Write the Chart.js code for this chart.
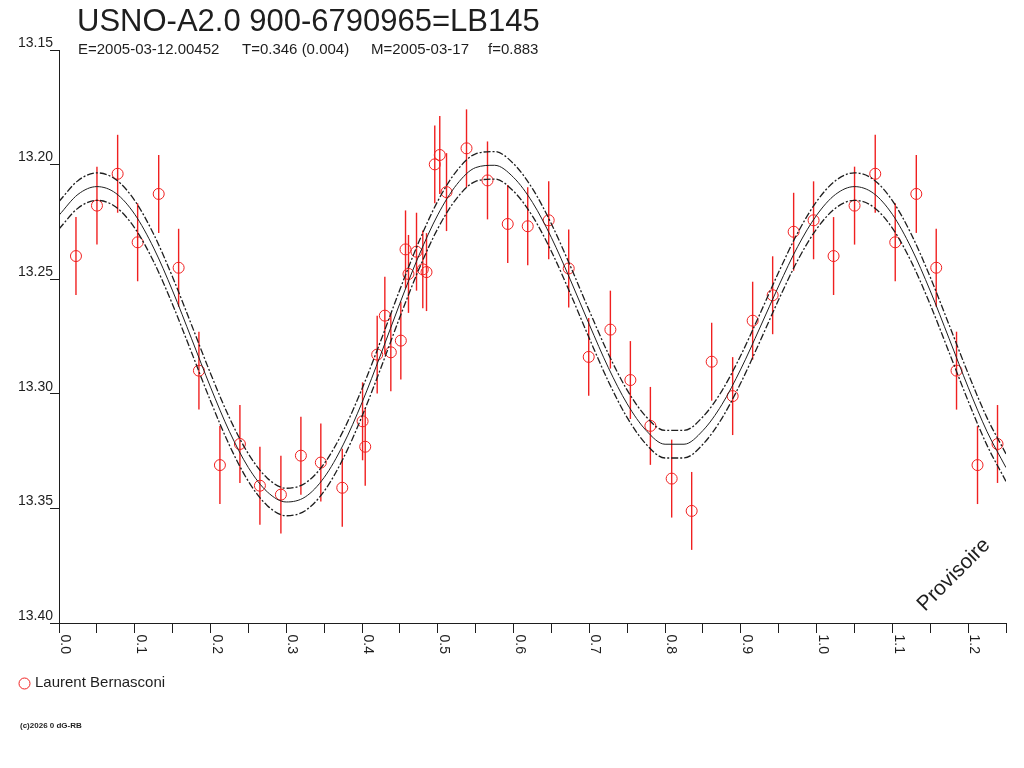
<!DOCTYPE html>
<html>
<head>
<meta charset="utf-8">
<title>USNO-A2.0 900-6790965=LB145</title>
<script src="https://cdn.jsdelivr.net/npm/chart.js@4.4.1/dist/chart.umd.min.js"></script>
<style>
  html, body { margin: 0; padding: 0; background: #fff; }
  #wrap { width: 1024px; height: 768px; }
</style>
</head>
<body>
<div id="wrap"><canvas id="lc" width="1024" height="768"></canvas></div>
<script>
const obsPhase = [
  0.0224, 0.0501, 0.0774, 0.1038, 0.1316, 0.1579, 0.1847, 0.2124, 0.2388, 0.2652,
  0.2929, 0.3193, 0.3456, 0.3739, 0.4007, 0.4042, 0.4200, 0.4301, 0.4380, 0.4512,
  0.4574, 0.4613, 0.4719, 0.4802, 0.4851, 0.4960, 0.5026, 0.5115, 0.5379, 0.5656,
  0.5923, 0.6187, 0.6464, 0.6728, 0.6992, 0.7278, 0.7542, 0.7806, 0.8087, 0.8351,
  0.8615, 0.8892, 0.9156, 0.9420, 0.9697, 0.9960
];
const obsMag = [
  13.2399, 13.2179, 13.2040, 13.2339, 13.2128, 13.2450, 13.2899, 13.3311, 13.3219, 13.3401,
  13.3440, 13.3270, 13.3300, 13.3410, 13.3120, 13.3231, 13.2829, 13.2659, 13.2819, 13.2768,
  13.2370, 13.2477, 13.2380, 13.2457, 13.2469, 13.1999, 13.1958, 13.2120, 13.1929, 13.2069,
  13.2259, 13.2269, 13.2243, 13.2453, 13.2839, 13.2720, 13.2940, 13.3140, 13.3370, 13.3511,
  13.2860, 13.3010, 13.2681, 13.2570, 13.2293, 13.2243
];
const magErr = 0.017;

// fitted light curve and its envelope
const fitPhase = [
  0.000, 0.025, 0.050, 0.075, 0.100, 0.125, 0.150, 0.175, 0.200, 0.225,
  0.250, 0.275, 0.300, 0.325, 0.350, 0.375, 0.400, 0.425, 0.450, 0.475,
  0.500, 0.525, 0.550, 0.575, 0.600, 0.625, 0.650, 0.675, 0.700, 0.725,
  0.750, 0.775, 0.800, 0.825, 0.850, 0.875, 0.900, 0.925, 0.950, 0.975,
  1.000, 1.025, 1.050, 1.075, 1.100, 1.125, 1.150, 1.175, 1.200, 1.225,
  1.250
];
const fitMag = [
  13.2221, 13.2130, 13.2096, 13.2125, 13.2217, 13.2364, 13.2551, 13.2760, 13.2971, 13.3165,
  13.3322, 13.3428, 13.3472, 13.3450, 13.3365, 13.3223, 13.3038, 13.2826, 13.2605, 13.2397,
  13.2219, 13.2087, 13.2013, 13.2003, 13.2056, 13.2165, 13.2319, 13.2503, 13.2698, 13.2885,
  13.3044, 13.3160, 13.3220, 13.3220, 13.3160, 13.3047, 13.2892, 13.2713, 13.2529, 13.2358,
  13.2221, 13.2130, 13.2096, 13.2125, 13.2217, 13.2364, 13.2551, 13.2760, 13.2971, 13.3165,
  13.3322
];
const fitUpper = [
  13.2161, 13.2070, 13.2036, 13.2065, 13.2157, 13.2304, 13.2491, 13.2700, 13.2911, 13.3105,
  13.3262, 13.3368, 13.3412, 13.3390, 13.3305, 13.3163, 13.2978, 13.2766, 13.2545, 13.2337,
  13.2159, 13.2027, 13.1953, 13.1943, 13.1996, 13.2105, 13.2259, 13.2443, 13.2638, 13.2825,
  13.2984, 13.3100, 13.3160, 13.3160, 13.3100, 13.2987, 13.2832, 13.2653, 13.2469, 13.2298,
  13.2161, 13.2070, 13.2036, 13.2065, 13.2157, 13.2304, 13.2491, 13.2700, 13.2911, 13.3105,
  13.3262
];
const fitLower = [
  13.2281, 13.2190, 13.2156, 13.2185, 13.2277, 13.2424, 13.2611, 13.2820, 13.3031, 13.3225,
  13.3382, 13.3488, 13.3532, 13.3510, 13.3425, 13.3283, 13.3098, 13.2886, 13.2665, 13.2457,
  13.2279, 13.2147, 13.2073, 13.2063, 13.2116, 13.2225, 13.2379, 13.2563, 13.2758, 13.2945,
  13.3104, 13.3220, 13.3280, 13.3280, 13.3220, 13.3107, 13.2952, 13.2773, 13.2589, 13.2418,
  13.2281, 13.2190, 13.2156, 13.2185, 13.2277, 13.2424, 13.2611, 13.2820, 13.3031, 13.3225,
  13.3382
];

const phaseMin = 0;
const phaseMax = 1.25;
const magTop = 13.15;
const magBottom = 13.40;

const FONT = '"Liberation Sans", Arial, sans-serif';
const RED = "#f02020";
const INK = "#1e1e1e";

// the folded plot repeats the start of the cycle after phase 1
var obsPoints = [];
for (let i = 0; i < obsPhase.length; i++) {
  obsPoints.push({ x: obsPhase[i], y: obsMag[i] });
  if (obsPhase[i] + 1 <= phaseMax) obsPoints.push({ x: obsPhase[i] + 1, y: obsMag[i] });
}

const toXY = (xs, ys) => xs.map((x, i) => ({ x: x, y: ys[i] }));

const errorBars = {
  id: "errorBars",
  beforeDatasetsDraw(chart) {
    const { ctx } = chart;
    const x = chart.scales.x;
    const y = chart.scales.y;
    ctx.save();
    ctx.strokeStyle = RED;
    ctx.lineWidth = 1.4;
    obsPoints.forEach((p) => {
      const px = x.getPixelForValue(p.x);
      ctx.beginPath();
      ctx.moveTo(px, y.getPixelForValue(p.y - magErr));
      ctx.lineTo(px, y.getPixelForValue(p.y + magErr));
      ctx.stroke();
    });
    ctx.restore();
  },
};

const decor = {
  id: "decor",
  afterDraw(chart) {
    const { ctx } = chart;
    ctx.save();
    ctx.fillStyle = INK;
    ctx.textBaseline = "alphabetic";
    ctx.textAlign = "left";

    ctx.font = "31px " + FONT;
    ctx.fillText("USNO-A2.0 900-6790965=LB145", 77, 31);

    ctx.font = "15px " + FONT;
    ctx.fillText("E=2005-03-12.00452", 78, 54);
    ctx.fillText("T=0.346 (0.004)", 242, 54);
    ctx.fillText("M=2005-03-17", 371, 54);
    ctx.fillText("f=0.883", 488, 54);

    // legend
    ctx.strokeStyle = RED;
    ctx.lineWidth = 1;
    ctx.beginPath();
    ctx.arc(24.5, 683.5, 5.5, 0, Math.PI * 2);
    ctx.stroke();
    ctx.font = "15px " + FONT;
    ctx.textBaseline = "middle";
    ctx.fillText("Laurent Bernasconi", 35, 683);

    ctx.font = "bold 8px " + FONT;
    ctx.textBaseline = "alphabetic";
    ctx.fillText("(c)2026 0 dG-RB", 20, 728);

    ctx.translate(925, 612);
    ctx.rotate(-Math.PI / 4);
    ctx.font = "21px " + FONT;
    ctx.fillText("Provisoire", 0, 0);
    ctx.restore();
  },
};

const isTenth = (v) => Math.abs(v * 10 - Math.round(v * 10)) < 1e-6;

new Chart(document.getElementById("lc"), {
  type: "scatter",
  data: {
    datasets: [
      {
        label: "fit",
        data: toXY(fitPhase, fitMag),
        showLine: true,
        borderColor: INK,
        borderWidth: 1,
        pointRadius: 0,
        cubicInterpolationMode: "monotone",
      },
      {
        label: "fit +",
        data: toXY(fitPhase, fitUpper),
        showLine: true,
        borderColor: INK,
        borderWidth: 1.3,
        borderDash: [7, 2, 2, 2],
        pointRadius: 0,
        cubicInterpolationMode: "monotone",
      },
      {
        label: "fit -",
        data: toXY(fitPhase, fitLower),
        showLine: true,
        borderColor: INK,
        borderWidth: 1.3,
        borderDash: [7, 2, 2, 2],
        pointRadius: 0,
        cubicInterpolationMode: "monotone",
      },
      {
        label: "Laurent Bernasconi",
        data: obsPoints,
        showLine: false,
        pointRadius: 5.5,
        pointBorderWidth: 1,
        pointBorderColor: RED,
        pointBackgroundColor: "rgba(0,0,0,0)",
      },
    ],
  },
  options: {
    responsive: false,
    animation: false,
    layout: { padding: { left: 0, top: 50, right: 18, bottom: 105 } },
    plugins: {
      legend: { display: false },
      tooltip: { enabled: false },
    },
    scales: {
      x: {
        type: "linear",
        min: phaseMin,
        max: phaseMax,
        afterFit: (s) => { s.height = 40; },
        border: { display: true, color: INK, width: 1 },
        grid: { drawOnChartArea: false, drawTicks: true, tickLength: 10, color: INK },
        ticks: {
          stepSize: 0.05,
          autoSkip: false,
          minRotation: -90,
          maxRotation: -90,
          padding: 21,
          labelOffset: 6,
          color: INK,
          font: { family: FONT, size: 14 },
          callback: (v) => (isTenth(v) ? v.toFixed(1) : ""),
        },
      },
      y: {
        type: "linear",
        reverse: true,
        min: magTop,
        max: magBottom,
        afterFit: (s) => { s.width = 59; },
        border: { display: true, color: INK, width: 1 },
        grid: { drawOnChartArea: false, drawTicks: true, tickLength: 9, color: INK },
        ticks: {
          stepSize: 0.05,
          padding: -3,
          labelOffset: -7,
          color: INK,
          font: { family: FONT, size: 14 },
          callback: (v) => v.toFixed(2),
        },
      },
    },
  },
  plugins: [errorBars, decor],
});
</script>
</body>
</html>
